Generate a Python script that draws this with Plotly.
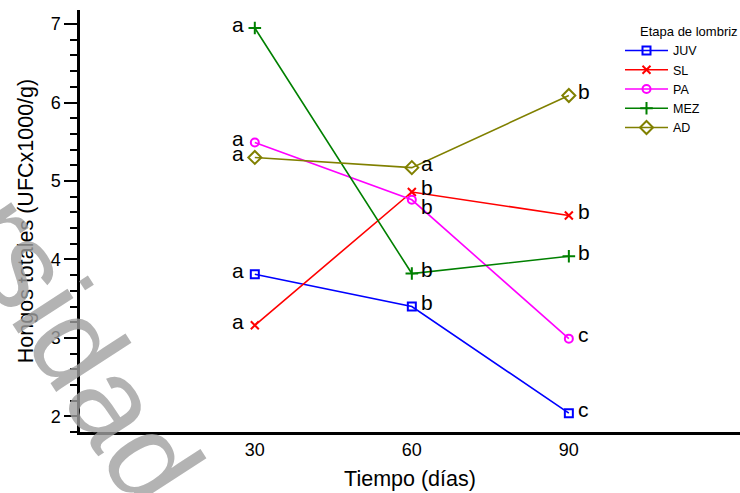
import plotly.graph_objects as go

days = [30, 60, 90]
series_names = ["JUV", "SL", "PA", "MEZ", "AD"]
juv = [3.81, 3.40, 2.04]
sl = [3.16, 4.86, 4.56]
pa = [5.49, 4.76, 2.99]
mez = [6.95, 3.82, 4.04]
ad = [5.30, 5.17, 6.09]
juv_lbl = ["a", "b", "c"]
sl_lbl = ["a", "b", "b"]
pa_lbl = ["a", "b", "c"]
mez_lbl = ["a", "b", "b"]
ad_lbl = ["a", "a", "b"]

values = [juv, sl, pa, mez, ad]
labels = [juv_lbl, sl_lbl, pa_lbl, mez_lbl, ad_lbl]
colors = ["#0000FF", "#FF0000", "#FF00FF", "#008000", "#808000"]
symbols = ["square-open", "x-thin-open", "circle-open", "cross-thin-open", "diamond-open"]
sizes = [8, 8, 8, 9, 10]

FONT = "Liberation Sans, Arial, sans-serif"

fig = go.Figure()
for name, vals, lbl, col, sym, sz in zip(series_names, values, labels, colors, symbols, sizes):
    fig.add_trace(go.Scatter(
        x=days, y=vals, name=name,
        mode="lines+markers",
        line=dict(color=col, width=1.6),
        marker=dict(symbol=sym, size=sz, color=col, line=dict(color=col, width=2)),
        cliponaxis=False,
    ))
    for i, (d, v, t) in enumerate(zip(days, vals, lbl)):
        xs = -17 if i == 0 else 15
        ys = 4
        if name == "PA" and i == 1:
            ys = -7
        fig.add_annotation(
            x=d, y=v, text=t, showarrow=False, xanchor="center", yanchor="middle",
            xshift=xs, yshift=ys, font=dict(size=21, color="black", family=FONT),
        )

fig.add_annotation(
    text="Universidad de", xref="paper", yref="paper",
    x=(40 - 80) / 660, y=1 - (288 - 10) / 422,
    xanchor="center", yanchor="middle", showarrow=False,
    textangle=57, font=dict(size=124, color="rgba(160,160,160,0.8)", family=FONT),
)

fig.update_layout(
    width=740, height=493,
    margin=dict(l=80, r=0, t=10, b=61),
    paper_bgcolor="white", plot_bgcolor="white",
    font=dict(family=FONT, color="black", size=18),
    showlegend=True,
    legend=dict(
        title=dict(text="     Etapa de lombriz", font=dict(size=13, family=FONT)),
        x=(620 - 80) / 660, y=1 - (19 - 10) / 422, xanchor="left", yanchor="top",
        font=dict(size=12.5, family=FONT), bgcolor="rgba(0,0,0,0)",
        tracegroupgap=0, itemwidth=43,
    ),
    xaxis=dict(
        range=[-3.4, 122.7], tickvals=days, ticktext=[str(d) for d in days],
        showline=True, linecolor="black", linewidth=2.5, ticks="",
        showgrid=False, zeroline=False,
        tickfont=dict(size=18),
        title=dict(text="Tiempo (días)", font=dict(size=21.5), standoff=12),
    ),
    yaxis=dict(
        range=[1.8, 7.18], tickvals=[2, 3, 4, 5, 6, 7],
        showline=True, linecolor="black", linewidth=2.5,
        ticks="outside", ticklen=13, tickwidth=2, tickcolor="black",
        minor=dict(dtick=0.2, ticks="outside", ticklen=7, tickwidth=2, tickcolor="black", showgrid=False),
        showgrid=False, zeroline=False,
        tickfont=dict(size=18),
        title=dict(text="Hongos totales (UFCx1000/g)", font=dict(size=21.5), standoff=12),
    ),
)

fig.write_html(
    "out.html",
    config={"displayModeBar": False},
    post_script="document.body.style.margin='0';document.body.style.overflow='hidden';",
)
